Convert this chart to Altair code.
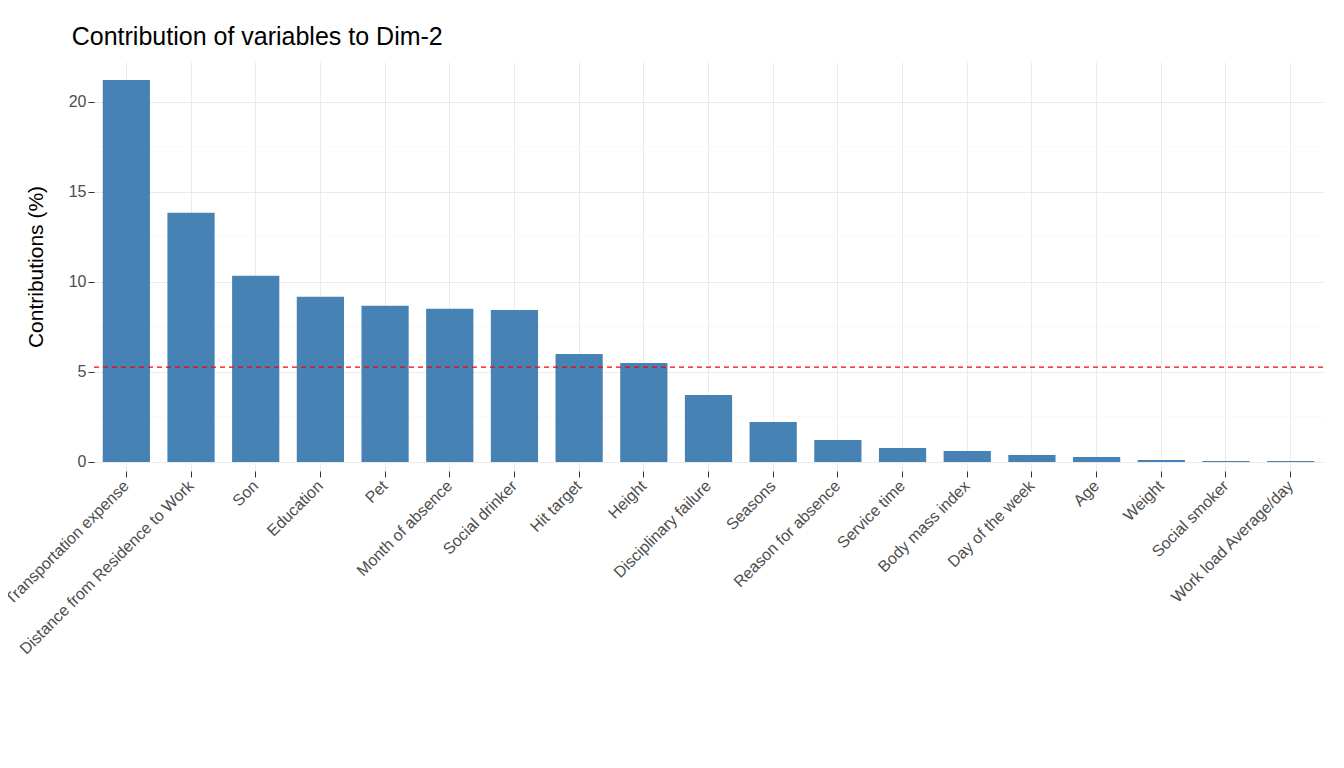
import altair as alt
import pandas as pd

names = ["Transportation expense", "Distance from Residence to Work", "Son", "Education", "Pet",
         "Month of absence", "Social drinker", "Hit target", "Height", "Disciplinary failure",
         "Seasons", "Reason for absence", "Service time", "Body mass index", "Day of the week",
         "Age", "Weight", "Social smoker", "Work load Average/day"]
values = [21.2, 13.83, 10.33, 9.17, 8.67, 8.5, 8.44, 6.0, 5.5, 3.72, 2.22, 1.22, 0.78, 0.61,
          0.39, 0.28, 0.11, 0.06, 0.05]
ref_line = [100 / 19]

df = pd.DataFrame({"name": names, "value": values})

bars = alt.Chart(df).mark_bar(color="#4682B4").encode(
    x=alt.X("name:N", sort=names, title=None,
            scale=alt.Scale(paddingInner=0.27, paddingOuter=0.135),
            axis=alt.Axis(labelAngle=-45, labelAlign="right", labelBaseline="middle",
                          labelColor="#4D4D4D", labelFontSize=16, labelPadding=6, labelLimit=500,
                          tickColor="#333333", tickSize=6, domain=False, grid=True,
                          gridColor="#EBEBEB", labelFont="Liberation Sans")),
    y=alt.Y("value:Q", title="Contributions (%)",
            scale=alt.Scale(domain=[-0.5, 22.2], nice=False, zero=False),
            axis=alt.Axis(values=[0, 5, 10, 15, 20], labelColor="#4D4D4D", labelFontSize=16,
                          tickColor="#333333", tickSize=6, domain=False, gridColor="#EBEBEB",
                          titleFontSize=21, titleFontWeight="normal", titleFont="Liberation Sans",
                          titlePadding=22, labelFont="Liberation Sans", titleColor="black")),
)

minor = alt.Chart(pd.DataFrame({"m": [2.5, 7.5, 12.5, 17.5]})).mark_rule(
    color="#F3F3F3", strokeWidth=0.6).encode(y="m:Q")

line = alt.Chart(pd.DataFrame({"r": ref_line})).mark_rule(
    color="red", strokeDash=[5, 4], strokeWidth=1.2).encode(y="r:Q")

chart = alt.layer(minor, bars, line).properties(
    width=1229, height=409,
    title=alt.TitleParams("Contribution of variables to Dim-2", anchor="start", fontSize=25,
                          fontWeight="normal", font="Liberation Sans", color="black", offset=12,
                          dx=70),
    autosize=alt.AutoSizeParams(type="none"),
    padding={"left": 86, "top": 54, "right": 10, "bottom": 290},
).configure_view(stroke=None)

chart.save("out.html", embed_options={"renderer": "svg", "actions": False})
